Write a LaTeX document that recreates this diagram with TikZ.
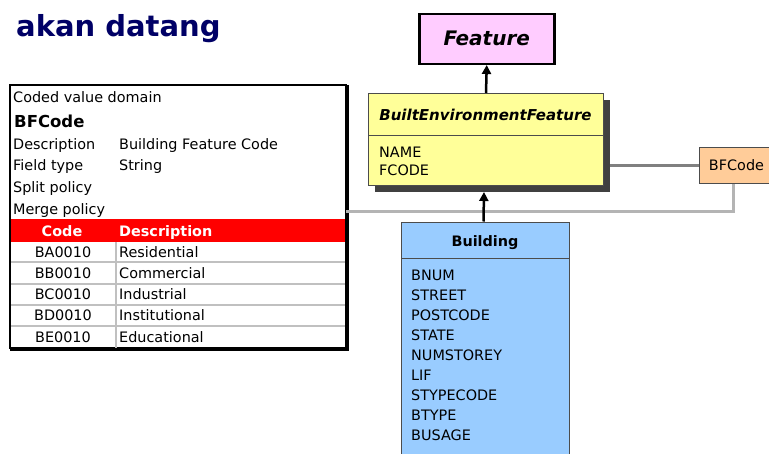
\documentclass[tikz,border=0pt]{standalone}
\usepackage{fontspec}
\setmainfont{DejaVu Sans}
\usepackage{tikz}
\usetikzlibrary{positioning, shadows, arrows.meta}
\definecolor{titleblue}{HTML}{000066}
\definecolor{featurepink}{HTML}{FFCCFF}
\definecolor{befyellow}{HTML}{FFFF99}
\definecolor{buildingblue}{HTML}{99CCFF}
\definecolor{codeorange}{HTML}{FFCC99}
\definecolor{shadowgray}{HTML}{404040}
\definecolor{linkgray}{HTML}{808080}
\definecolor{domaingray}{HTML}{B4B4B4}
\definecolor{rowgray}{HTML}{C0C0C0}
\newcommand{\bodysize}{\fontsize{14.4}{17}\selectfont}

\begin{document}
\begin{tikzpicture}[x=1pt, y=-1pt, font=\bodysize,
    txt/.style={anchor=base west, inner sep=0pt},
    umlbox/.style={draw=black!70, line width=1pt, anchor=north west},
    inherit/.style={line width=2.5pt, -{Triangle[width=9pt, length=9pt]}}]
    \useasboundingbox (0,0) rectangle (769,453);

    \node[txt, text=titleblue, font=\fontsize{29}{34}\selectfont\bfseries] (title) at (16,36) {akan datang};

    \node[draw, line width=2.5pt, fill=featurepink, minimum width=135pt, minimum height=50pt, anchor=north west, font=\fontsize{20}{24}\selectfont\bfseries\itshape] (feature) at (418,12.5) {Feature};

    \node[umlbox, fill=befyellow, minimum width=235pt, minimum height=92pt, drop shadow={shadow xshift=6pt, shadow yshift=-6pt, fill=shadowgray, opacity=1}] (bef) at (368,93) {};
    \draw[black!70, line width=1pt] ([yshift=-42pt]bef.north west) -- ([yshift=-42pt]bef.north east);
    \node[anchor=base, inner sep=0pt, font=\fontsize{15}{18}\selectfont\bfseries\itshape] (beftitle) at (485.5,120.5) {BuiltEnvironmentFeature};
    \node[txt] (name) at (379,157) {NAME};
    \node[txt] (fcode) at (379,175) {FCODE};

    \node[umlbox, fill=codeorange, minimum width=74pt, minimum height=36pt] (bfcode) at (699,147) {BFCode};

    \node[umlbox, fill=buildingblue, minimum width=168pt, minimum height=240pt] (building) at (401,221.5) {};
    \draw[black!70, line width=1pt] ([yshift=-36.5pt]building.north west) -- ([yshift=-36.5pt]building.north east);
    \node[anchor=base, inner sep=0pt, font=\bodysize\bfseries] (buildingtitle) at (485,246) {Building};
    \foreach \a [count=\i] in {BNUM, STREET, POSTCODE, STATE, NUMSTOREY, LIF, STYPECODE, BTYPE, BUSAGE}
        \node[txt] (attr\i) at (411,260+20*\i) {\a};

    \node[draw, line width=2pt, outer sep=0pt, minimum width=336pt, minimum height=263pt, anchor=north west] (domain) at (10,85) {};
    \draw[line width=2pt] ([xshift=1.5pt]domain.north east) -- ([shift={(1.5pt,-1.5pt)}]domain.south east) -- ([yshift=-1.5pt]domain.south west);
    \node[txt] (kind) at (13,102) {Coded value domain};
    \node[txt, font=\fontsize{16.5}{20}\selectfont\bfseries] (dname) at (14,127.5) {BFCode};
    \node[txt] (desclabel) at (13,149) {Description};
    \node[txt] (descval) at (119,149) {Building Feature Code};
    \node[txt] (typelabel) at (13,170) {Field type};
    \node[txt] (typeval) at (119,170) {String};
    \node[txt] (split) at (13,192) {Split policy};
    \node[txt] (merge) at (13,214) {Merge policy};

    \node[fill=red, minimum width=334pt, minimum height=23pt, anchor=north west, inner sep=0pt] (header) at (11,219) {};
    \node[anchor=base, inner sep=0pt, text=white, font=\bodysize\bfseries] (codehead) at (62,236) {Code};
    \node[txt, text=white, font=\bodysize\bfseries] (deschead) at (119,236) {Description};
    \foreach \code/\desc [count=\i] in {BA0010/Residential, BB0010/Commercial, BC0010/Industrial, BD0010/Institutional, BE0010/Educational} {
        \node[anchor=base, inner sep=0pt] (code\i) at (63,235.75+21.25*\i) {\code};
        \node[txt] (desc\i) at (119,235.75+21.25*\i) {\desc};
    }
    \foreach \i in {1,...,4}
        \draw[rowgray, line width=2pt] (11,241+21.25*\i) -- (345,241+21.25*\i);
    \draw[rowgray, line width=2pt] (header.south -| 116,0) -- (domain.south -| 116,0);

    \draw[linkgray, line width=2.5pt] ([xshift=6pt]bef.east |- bfcode.west) -- (bfcode.west);
    \draw[domaingray, line width=3pt] ([xshift=-3pt]bfcode.south) |- (domain.east |- 0,211);
    \draw[inherit] (bef.north) -- (feature.south);
    \draw[inherit] ([xshift=-2pt]building.north) -- ([shift={(-2pt,-6pt)}]bef.south);
\end{tikzpicture}
\end{document}
